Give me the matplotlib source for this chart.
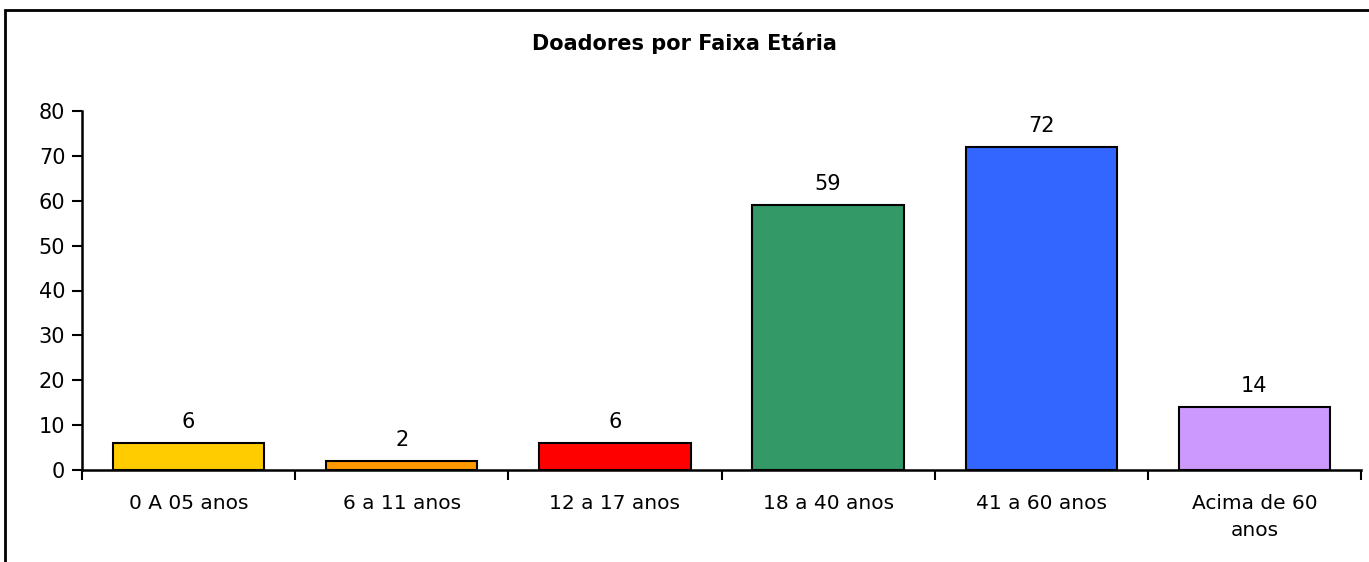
import matplotlib.pyplot as plt
import numpy as np
from matplotlib.patches import Rectangle

plt.rcParams['font.family'] = ['DejaVu Sans']

# data
faixas = ['0 A 05 anos', '6 a 11 anos', '12 a 17 anos', '18 a 40 anos',
          '41 a 60 anos', 'Acima de 60\nanos']
doadores = [6, 2, 6, 59, 72, 14]
cores = ['#FFCC00', '#FF9900', '#FF0000', '#339966', '#3366FF', '#CC99FF']

fig = plt.figure(figsize=(13.69, 5.62), dpi=100)

# chart area border (only top and left visible in the original)
fig.patches.append(Rectangle((5 / 1369, -0.1), 1.2, 1.1 - 10 / 562,
                             transform=fig.transFigure, fill=False,
                             edgecolor='black', linewidth=2))

ax = fig.add_axes([82 / 1369, 1 - 470 / 562, (1361 - 82) / 1369, (470 - 111) / 562])

x = np.arange(len(faixas))
ax.bar(x, doadores, width=0.71, color=cores, edgecolor='black', linewidth=1.5)

for xi, v in zip(x, doadores):
    ax.annotate(str(v), (xi, v), xytext=(0, 8), textcoords='offset points',
                ha='center', va='bottom', fontsize=15)

ax.set_xlim(-0.5, len(faixas) - 0.5)
ax.set_ylim(0, 80)
ax.set_yticks(range(0, 81, 10))
ax.tick_params(axis='y', labelsize=15, length=7, width=1.5, direction='out', pad=5)

ax.set_xticks(x)
ax.set_xticklabels(faixas, fontsize=14.5, linespacing=1.55)
ax.set_xticks(np.arange(-0.5, len(faixas), 1), minor=True)
ax.tick_params(axis='x', which='major', length=0, pad=17)
ax.tick_params(axis='x', which='minor', length=7, width=1.5, direction='out')

for s in ['top', 'right']:
    ax.spines[s].set_visible(False)
for s in ['left', 'bottom']:
    ax.spines[s].set_linewidth(1.8)

fig.text(0.5, 1 - 43 / 562, 'Doadores por Faixa Etária', ha='center', va='center',
         fontsize=15, fontweight='bold')

fig.savefig('out.png', dpi=100)
